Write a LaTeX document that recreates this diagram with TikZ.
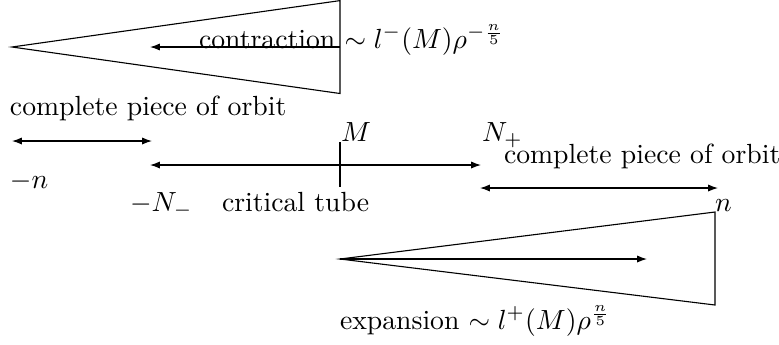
\documentclass[tikz,border=0pt]{standalone}
\usetikzlibrary{arrows.meta}
\begin{document}
\begin{tikzpicture}[x=0.361pt,y=-0.361pt,
  lbl/.style={anchor=base west,inner sep=0pt,outer sep=0pt},
  arr/.style={-{Latex[length=3.6pt,width=2.6pt]}},
  darr/.style={{Latex[length=3.6pt,width=2.6pt]}-{Latex[length=3.6pt,width=2.6pt]}}]
\useasboundingbox (0,0) rectangle (779,344);
% top triangle (contraction)
\coordinate (ta) at (12,47);
\coordinate (tt) at (340,0.6);
\coordinate (tb) at (340,93.5);
\coordinate (tm) at (340,47);
\coordinate (te) at (150,47);
\draw (ta) -- (tt) -- (tb) -- cycle;
\draw[arr] (tm) -- (te);
\node[lbl] (contr) at (199,48) {contraction $\sim l^-(M)\rho^{-\frac{n}{5}}$};
% left complete piece
\node[lbl] (cpl) at (10,115) {complete piece of orbit};
\coordinate (l1) at (12,141);
\coordinate (l2) at (152,141);
\draw[darr] (l1) -- (l2);
\node[lbl] (mn) at (10,188) {$-n$};
% critical tube
\coordinate (c1) at (150,165);
\coordinate (c2) at (481,165);
\draw[darr] (c1) -- (c2);
\coordinate (mt) at (340,142);
\coordinate (mb) at (340,187);
\draw (mt) -- (mb);
\node[lbl] (M) at (341,141) {$M$};
\node[lbl] (Nm) at (130,211) {$-N_-$};
\node[lbl] (ct) at (222,211) {critical tube};
\node[lbl] (Np) at (482,141) {$N_+$};
% right complete piece
\node[lbl] (cpr) at (504,163) {complete piece of orbit};
\coordinate (r1) at (480,188);
\coordinate (r2) at (718,188);
\draw[darr] (r1) -- (r2);
\node[lbl] (n) at (715,211) {$n$};
% bottom triangle (expansion)
\coordinate (ba) at (340,259);
\coordinate (bt) at (715,212);
\coordinate (bb) at (715,305);
\coordinate (be) at (647,259);
\draw (ba) -- (bt) -- (bb) -- cycle;
\draw[arr] (ba) -- (be);
\node[lbl] (exp) at (340,329) {expansion $\sim l^+(M)\rho^{\frac{n}{5}}$};
\end{tikzpicture}
\end{document}
